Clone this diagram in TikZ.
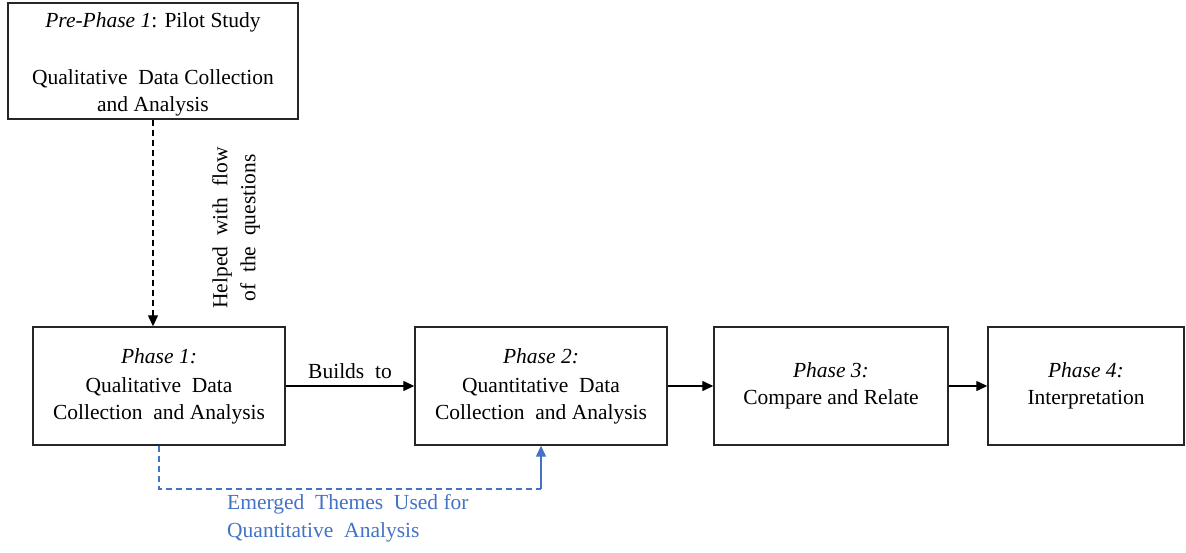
\documentclass[tikz,border=0pt]{standalone}
\usepackage{fontspec}
\setmainfont{Liberation Serif}
\usetikzlibrary{arrows.meta}
\definecolor{themeblue}{HTML}{4472C4}
\begin{document}
\begin{tikzpicture}[x=1pt,y=-1pt,
  box/.style={draw=black!85,line width=1.4pt,inner sep=0pt,align=center,
    font=\fontsize{21.5}{27}\selectfont},
  tip/.style={-{Triangle[length=11pt,width=10pt]}},
  conn/.style={line width=1.3pt,tip},
  dsh/.style={dash pattern=on 6pt off 4pt},
  lbl/.style={font=\fontsize{21.5}{28}\selectfont,inner sep=0pt,align=center}]
\useasboundingbox (0,0) rectangle (1186,552);
\node[box,minimum width=290pt,minimum height=116pt] (pre) at (153,61) {};
\node[lbl,font=\fontsize{21.5}{27}\selectfont] (pretext) at (153,64)
  {\textit{Pre-Phase 1}: Pilot Study\\[30pt] Qualitative\ \ Data Collection\\ and Analysis};
\node[box,minimum width=252pt,minimum height=118pt] (p1) at (159,386)
  {\textit{Phase 1:}\\[2pt] Qualitative\ \ Data\\ Collection\ \ and Analysis};
\node[box,minimum width=252pt,minimum height=118pt] (p2) at (541,386)
  {\textit{Phase 2:}\\[2pt] Quantitative\ \ Data\\ Collection\ \ and Analysis};
\node[box,minimum width=234pt,minimum height=118pt] (p3) at (831,386)
  {\textit{Phase 3:}\\ Compare\ and Relate};
\node[box,minimum width=196pt,minimum height=118pt] (p4) at (1086,386)
  {\textit{Phase 4:}\\ Interpretation};
\draw[conn,dsh] (pre.south) -- (pre.south |- p1.north);
\node[lbl,rotate=90] (help) at (236,228) {Helped\ \ with\ \ flow\\ of\ \ the\ \ questions};
\draw[conn] (p1.east) -- node[lbl,above=7pt] (bt) {Builds\ \ to} (p2.west);
\draw[conn] (p2.east) -- (p3.west);
\draw[conn] (p3.east) -- (p4.west);
\coordinate (turn) at (541,489);
\draw[themeblue,line width=1.3pt,dsh] (p1.south) |- (turn);
\draw[themeblue,line width=1.3pt,tip] (turn) -- (p2.south);
\node[lbl,text=themeblue,align=left,anchor=north west] (emg) at (227,494)
  {Emerged\ \ Themes\ \ Used for\\ Quantitative\ \ Analysis};
\end{tikzpicture}
\end{document}
